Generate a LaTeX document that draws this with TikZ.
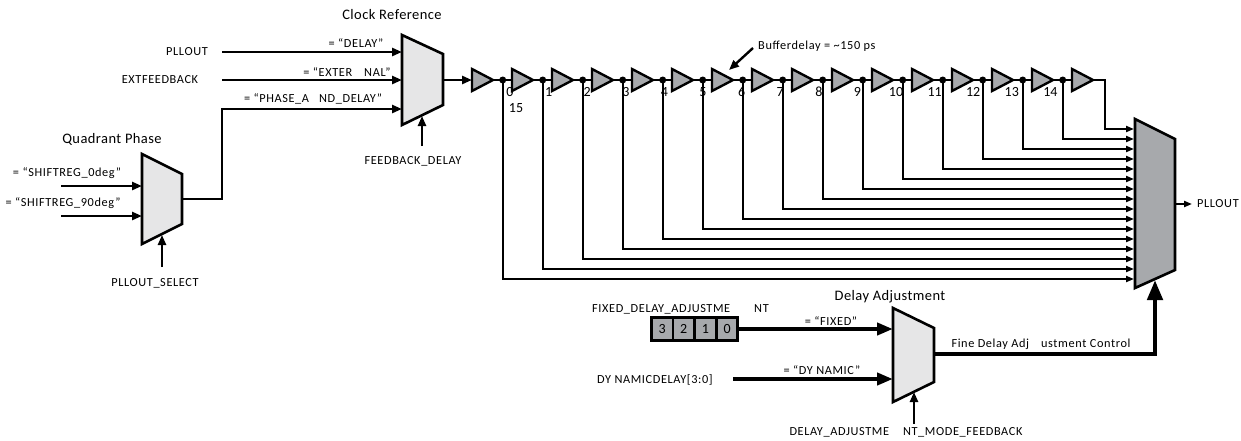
\documentclass[tikz,border=0pt]{standalone}
\usepackage{fontspec}
\setmainfont{Carlito}
\newfontfamily\lblfont{Carlito}[LetterSpace=5]
\newfontfamily\ttlfont{Carlito}[LetterSpace=3]
\usetikzlibrary{arrows.meta,positioning}

\definecolor{muxgray}{HTML}{E6E6E7}
\definecolor{bufgray}{HTML}{A7A9AC}

\tikzset{
  wire/.style={line width=2.6pt},
  sig/.style={line width=2.6pt,-{Triangle[length=10pt,width=8pt]}},
  tap/.style={line width=2.2pt,-{Triangle[length=8pt,width=6pt]}},
  selarrow/.style={line width=2.4pt,-{Triangle[length=10pt,width=8pt]}},
  adjin/.style={line width=4pt,-{Triangle[length=16pt,width=12pt]}},
  adjout/.style={line width=4.5pt,-{Triangle[length=20pt,width=15pt]}},
  mux/.style={draw,line width=2.6pt,fill=muxgray},
  bigmux/.style={draw,line width=2.6pt,fill=bufgray},
  buf/.style={draw,line width=2.4pt,fill=bufgray},
  dot/.style={circle,fill=black,inner sep=0pt,minimum size=7pt},
  cell/.style={draw,line width=1.4pt,fill=bufgray,minimum width=20.25pt,minimum height=22pt,inner sep=0pt,font=\fontsize{14}{16}\selectfont},
  lbl/.style={inner sep=0pt,font=\lblfont\fontsize{12.3}{14}\selectfont},
  ttl/.style={inner sep=0pt,font=\ttlfont\fontsize{14.5}{17}\selectfont},
  num/.style={inner sep=0pt,font=\fontsize{14}{16}\selectfont},
}

\begin{document}
\begin{tikzpicture}[x=1pt,y=-1pt]
\useasboundingbox (0,0) rectangle (1241,440);

% Quadrant Phase
\draw[mux] (142,154) -- (182,174) -- (182,224) -- (142,244) -- cycle;
\coordinate (qa) at (142,186);
\coordinate (qb) at (142,216);
\coordinate (qout) at (182,199);
\coordinate (qsel) at (162,235);
\coordinate (qa0) at (61,186);
\coordinate (qb0) at (61,216);
\coordinate (qsel0) at (162,267);
\node[ttl] (qtitle) at (112,139) {Quadrant Phase};
\node[lbl] (q0) at (67,173) {= “SHIFTREG\_0deg”};
\node[lbl] (q90) at (63,203) {= “SHIFTREG\_90deg”};
\node[lbl] (qselname) at (155,283) {PLLOUT\_SELECT};
\draw[sig] (qa0) -- (qa);
\draw[sig] (qb0) -- (qb);
\draw[selarrow] (qsel0) -- (qsel);

% Clock Reference
\draw[mux] (402,35) -- (443,54) -- (443,105) -- (402,125) -- cycle;
\coordinate (ca) at (402,52);
\coordinate (cb) at (402,80);
\coordinate (cc) at (402,109);
\coordinate (cout) at (443,80);
\coordinate (csel) at (422,116);
\coordinate (ca0) at (222,52);
\coordinate (cb0) at (222,80);
\coordinate (cc0) at (222,109);
\coordinate (csel0) at (422,146);
\node[ttl] (ctitle) at (392,15) {Clock Reference};
\node[lbl] (pllin) at (187,52) {PLLOUT};
\node[lbl] (extfb) at (160,80) {EXTFEEDBACK};
\node[lbl] (cdelay) at (356,43) {= “DELAY”};
\node[lbl] (cext) at (347,72) {= “EXTER\hspace{12pt}NAL”};
\node[lbl] (cphase) at (313,99) {= “PHASE\_A\hspace{10pt}ND\_DELAY”};
\node[lbl] (cselname) at (413,161) {FEEDBACK\_DELAY};
\draw[sig] (ca0) -- (ca);
\draw[sig] (cb0) -- (cb);
\draw[sig] (qout) -| (cc0) -- (cc);
\draw[selarrow] (csel0) -- (csel);

% delay chain
\foreach \j in {0,...,15}{
  \coordinate (bi\j) at (472+40*\j,80);
  \coordinate (bo\j) at (493+40*\j,80);
}
\foreach \k in {0,...,15}
  \coordinate (m\k) at (1134,279-10*\k);
\draw[sig] (cout) -- (bi0);
\draw[wire] (bo0) -- (bi15);
\foreach \k in {0,...,14}{
  \node[dot] (d\k) at (502.7+40*\k,80) {};
  \draw[tap] (d\k.center) |- (m\k);
  \node[num] (n\k) at (510+38.6*\k,92) {\k};
}
\node[num] (n15) at (516,108) {15};
\draw[tap] (bo15) -- ++(12,0) |- (m15);
\foreach \j in {0,...,15}
  \draw[buf] (bi\j) ++(0,-11) -- (bo\j) -- ++(-21,11) -- cycle;
\node[lbl,anchor=west] (bdelay) at (758,46) {Bufferdelay = \textasciitilde150 ps};
\coordinate (bdtip) at (729,70);
\draw[selarrow] ([xshift=-5pt,yshift=-2pt]bdelay.west) -- (bdtip);

% output mux
\draw[bigmux] (1135,119) -- (1175,139) -- (1175,270) -- (1135,288) -- cycle;
\coordinate (pout) at (1175,204);
\coordinate (padj) at (1155,280);
\node[lbl,anchor=west] (pllout) at (1197,204) {PLLOUT};
\draw[tap] (pout) -- ([xshift=-5pt]pllout.west);

% Delay Adjustment
\draw[mux] (893,308) -- (934,328) -- (934,382) -- (893,402) -- cycle;
\coordinate (da) at (893,329);
\coordinate (db) at (893,379);
\coordinate (dout) at (934,354);
\coordinate (dsel) at (914,392);
\coordinate (db0) at (733,379);
\coordinate (dsel0) at (914,424);
\node[ttl] (dtitle) at (890,297) {Delay Adjustment};
\node[lbl,anchor=west] (fixname) at (592,309) {FIXED\_DELAY\_ADJUSTME\hspace{24pt}NT};
\node[cell] (r3) at (662.1,329) {3};
\node[cell,right=0pt of r3] (r2) {2};
\node[cell,right=0pt of r2] (r1) {1};
\node[cell,right=0pt of r1] (r0) {0};
\draw[line width=2.4pt] (r3.north west) rectangle (r0.south east);
\node[lbl] (dfixed) at (831,321) {= “FIXED”};
\node[lbl,anchor=west] (dynname) at (597,380) {DY NAMICDELAY[3:0]};
\node[lbl] (ddyn) at (822,370) {= “DY NAMIC”};
\node[lbl] (finectl) at (1041,344) {Fine Delay Adj\hspace{12pt}ustment Control};
\node[lbl] (dselname) at (906,432) {DELAY\_ADJUSTME\hspace{14pt}NT\_MODE\_FEEDBACK};
\draw[adjin] (r0.east) -- (da);
\draw[adjin] (db0) -- (db);
\draw[selarrow] (dsel0) -- (dsel);
\draw[adjout] (dout) -| (padj);
\end{tikzpicture}
\end{document}
